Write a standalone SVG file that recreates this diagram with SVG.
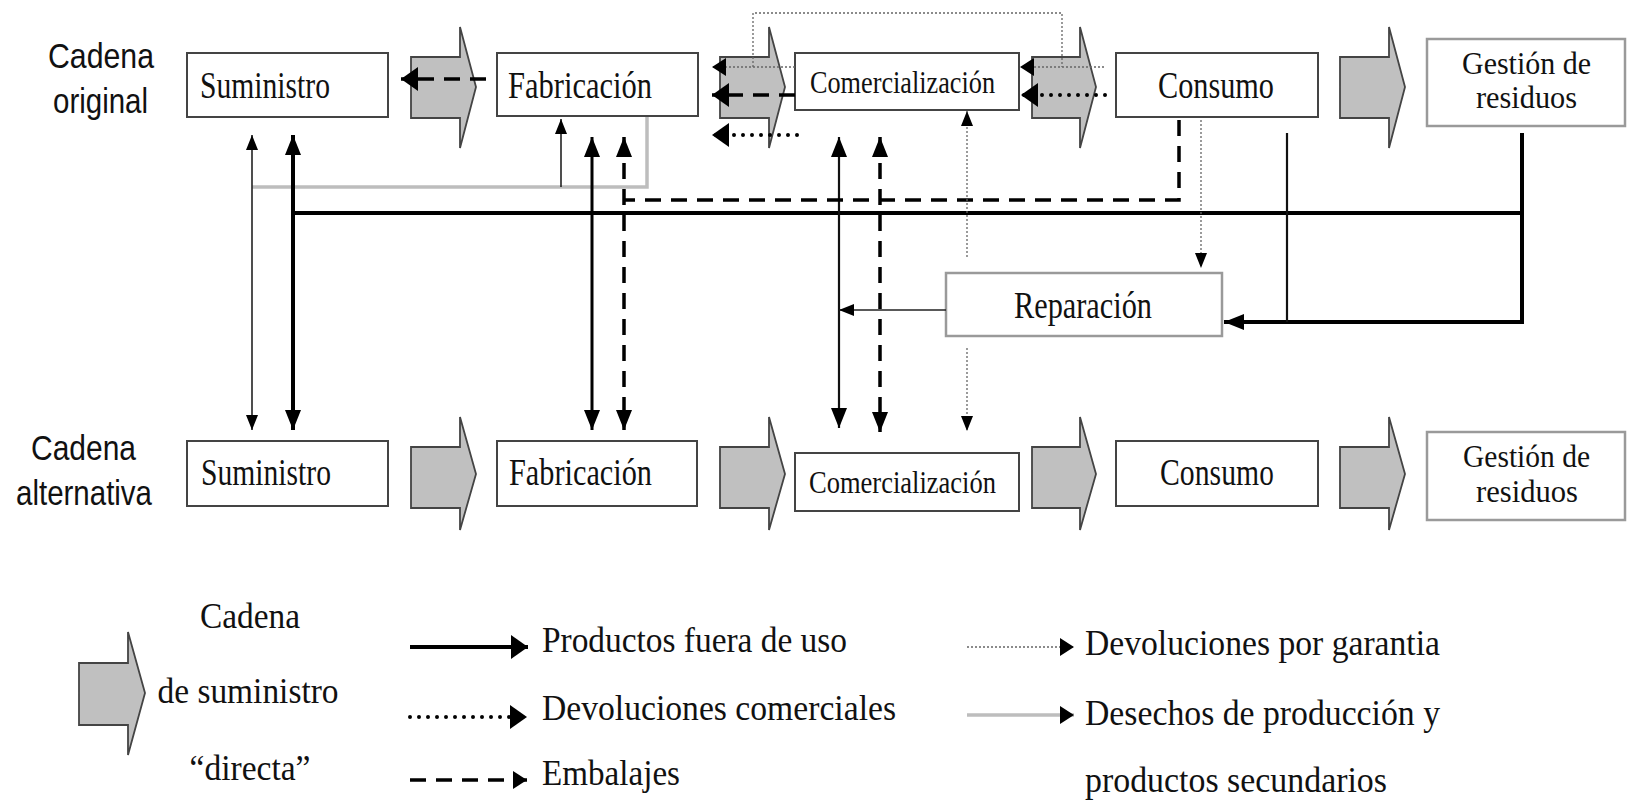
<svg xmlns="http://www.w3.org/2000/svg" width="1627" height="805" viewBox="0 0 1627 805">
<style>
.bg{fill:#fff}
.box{fill:#fff;stroke:#444;stroke-width:2}
.boxl{fill:#fff;stroke:#9a9a9a;stroke-width:2.5}
.blk{fill:#c0c0c0;stroke:#444;stroke-width:1.8;stroke-linejoin:miter}
.lbl{font-family:"Liberation Serif","Times New Roman",serif;font-size:38px;fill:#111}
.lblg{font-family:"Liberation Serif","Times New Roman",serif;font-size:32px;fill:#111}
.lbls{font-family:"Liberation Serif","Times New Roman",serif;font-size:31px;fill:#111}
.sans{font-family:"Liberation Sans",Arial,sans-serif;font-size:35px;fill:#111}
.leg{font-family:"Liberation Serif","Times New Roman",serif;font-size:35px;fill:#111}
.c{fill:none;stroke-linecap:butt}
.thick{stroke:#000;stroke-width:4}
.med{stroke:#000;stroke-width:3}
.mid{stroke:#111;stroke-width:2.2}
.thin{stroke:#222;stroke-width:1.6}
.gray{stroke:#bdbdbd;stroke-width:3.5}
.dash{stroke:#000;stroke-width:3.5;stroke-dasharray:16 10}
.dots{stroke:#000;stroke-width:4;stroke-dasharray:0 9;stroke-linecap:round}
.fine{stroke:#666;stroke-width:1.3;stroke-dasharray:2 2}
</style>
<defs>
<marker id="hs" markerUnits="userSpaceOnUse" markerWidth="15" markerHeight="12" refX="15" refY="6" orient="auto-start-reverse"><path d="M0,0 L15,6 L0,12 z" fill="#000"/></marker>
<marker id="hl" markerUnits="userSpaceOnUse" markerWidth="20" markerHeight="16" refX="20" refY="8" orient="auto-start-reverse"><path d="M0,0 L20,8 L0,16 z" fill="#000"/></marker>
<marker id="hh" markerUnits="userSpaceOnUse" markerWidth="14" markerHeight="18" refX="14" refY="9" orient="auto-start-reverse"><path d="M0,0 L14,9 L0,18 z" fill="#000"/></marker>
<marker id="hx" markerUnits="userSpaceOnUse" markerWidth="17" markerHeight="24" refX="17" refY="12" orient="auto-start-reverse"><path d="M0,0 L17,12 L0,24 z" fill="#000"/></marker>
</defs>
<rect class="bg" x="0" y="0" width="1627" height="805"/>

<g id="row-labels">
<text class="sans" x="48" y="68" textLength="106" lengthAdjust="spacingAndGlyphs">Cadena</text>
<text class="sans" x="53" y="113" textLength="95" lengthAdjust="spacingAndGlyphs">original</text>
<text class="sans" x="31" y="460" textLength="105" lengthAdjust="spacingAndGlyphs">Cadena</text>
<text class="sans" x="16" y="505" textLength="136" lengthAdjust="spacingAndGlyphs">alternativa</text>
</g>

<g id="flow-arrows">
<path class="blk" d="M411 57 H460 V27 L476 87 L460 148 V118 H411 Z"/>
<path class="blk" d="M720 57 H769 V27 L785 87 L769 148 V118 H720 Z"/>
<path class="blk" d="M1032 57 H1080 V27 L1096 87 L1080 148 V118 H1032 Z"/>
<path class="blk" d="M1340 57 H1389 V27 L1405 87 L1389 148 V118 H1340 Z"/>
<path class="blk" d="M411 447 H460 V417 L476 474 L460 530 V508 H411 Z"/>
<path class="blk" d="M720 447 H769 V417 L785 474 L769 530 V508 H720 Z"/>
<path class="blk" d="M1032 447 H1080 V417 L1096 474 L1080 530 V508 H1032 Z"/>
<path class="blk" d="M1340 447 H1389 V417 L1405 474 L1389 530 V508 H1340 Z"/>
</g>

<g id="orig-suministro"><rect class="box" x="187" y="53" width="201" height="64"/><text class="lbl" x="200" y="98" textLength="130" lengthAdjust="spacingAndGlyphs">Suministro</text></g>
<g id="orig-fabricacion"><rect class="box" x="497" y="53" width="201" height="63"/><text class="lbl" x="508" y="98" textLength="144" lengthAdjust="spacingAndGlyphs">Fabricación</text></g>
<g id="orig-comercializacion"><rect class="box" x="795" y="53" width="224" height="57"/><text class="lbls" x="810" y="93" textLength="185" lengthAdjust="spacingAndGlyphs">Comercialización</text></g>
<g id="orig-consumo"><rect class="box" x="1116" y="53" width="202" height="64"/><text class="lbl" x="1158" y="98" textLength="116" lengthAdjust="spacingAndGlyphs">Consumo</text></g>
<g id="orig-gestion"><rect class="boxl" x="1427" y="39" width="198" height="87"/><text class="lblg" x="1462" y="74" textLength="129" lengthAdjust="spacingAndGlyphs">Gestión de</text><text class="lblg" x="1476" y="108" textLength="101" lengthAdjust="spacingAndGlyphs">residuos</text></g>

<g id="reparacion"><rect class="boxl" x="946" y="273" width="276" height="63"/><text class="lbl" x="1014" y="318" textLength="138" lengthAdjust="spacingAndGlyphs">Reparación</text></g>

<g id="alt-suministro"><rect class="box" x="187" y="441" width="201" height="65"/><text class="lbl" x="201" y="485" textLength="130" lengthAdjust="spacingAndGlyphs">Suministro</text></g>
<g id="alt-fabricacion"><rect class="box" x="497" y="441" width="200" height="65"/><text class="lbl" x="509" y="485" textLength="143" lengthAdjust="spacingAndGlyphs">Fabricación</text></g>
<g id="alt-comercializacion"><rect class="box" x="795" y="453" width="224" height="58"/><text class="lbls" x="809" y="493" textLength="187" lengthAdjust="spacingAndGlyphs">Comercialización</text></g>
<g id="alt-consumo"><rect class="box" x="1116" y="441" width="202" height="65"/><text class="lbl" x="1160" y="485" textLength="114" lengthAdjust="spacingAndGlyphs">Consumo</text></g>
<g id="alt-gestion"><rect class="boxl" x="1427" y="432" width="198" height="88"/><text class="lblg" x="1463" y="467" textLength="127" lengthAdjust="spacingAndGlyphs">Gestión de</text><text class="lblg" x="1476" y="502" textLength="102" lengthAdjust="spacingAndGlyphs">residuos</text></g>

<g id="connectors">
<path class="c gray" d="M647 117 V187 H252"/>
<path class="c thin" d="M561 187 V119" marker-end="url(#hs)"/>
<path class="c thin" d="M252 135 V430" marker-start="url(#hs)" marker-end="url(#hs)"/>
<path class="c thick" d="M293 135 V430" marker-start="url(#hl)" marker-end="url(#hl)"/>
<path class="c thick" d="M293 213 H1522"/>
<path class="c thick" d="M1522 133 V322 H1224" marker-end="url(#hl)"/>
<path class="c mid" d="M1287 133 V322"/>
<path class="c med" d="M592 137 V430" marker-start="url(#hl)" marker-end="url(#hl)"/>
<path class="c mid" d="M839 137 V428" marker-start="url(#hl)" marker-end="url(#hl)"/>
<path class="c thin" d="M946 310 H839" marker-end="url(#hs)"/>
<path class="c dash" d="M1179 120 V200 H624"/>
<path class="c dash" d="M624 137 V430" marker-start="url(#hl)" marker-end="url(#hl)"/>
<path class="c dash" d="M880 137 V432" marker-start="url(#hl)" marker-end="url(#hl)"/>
<path class="c dash" d="M486 79 H401" marker-end="url(#hx)"/>
<path class="c dash" d="M795 95 H712" marker-end="url(#hx)"/>
<path class="c dots" d="M797 135 H712" marker-end="url(#hx)"/>
<path class="c dots" d="M1105 95 H1021" marker-end="url(#hx)"/>
<path class="c fine" d="M753 67 V13 H1062 V67"/>
<path class="c fine" d="M795 67 H712" marker-end="url(#hh)"/>
<path class="c fine" d="M1104 67 H1020" marker-end="url(#hh)"/>
<path class="c fine" d="M967 257 V111" marker-end="url(#hs)"/>
<path class="c fine" d="M967 348 V431" marker-end="url(#hs)"/>
<path class="c fine" d="M1201 120 V268" marker-end="url(#hs)"/>
</g>

<g id="legend">
<path class="blk" d="M79 663 H128 V632 L145 693 L128 755 V725 H79 Z"/>
<text class="leg" x="250" y="628" text-anchor="middle" textLength="100" lengthAdjust="spacingAndGlyphs">Cadena</text>
<text class="leg" x="248" y="703" text-anchor="middle" textLength="181" lengthAdjust="spacingAndGlyphs">de suministro</text>
<text class="leg" x="250" y="780" text-anchor="middle" textLength="121" lengthAdjust="spacingAndGlyphs">“directa”</text>
<path class="c thick" d="M410 647 H528" marker-end="url(#hx)"/>
<text class="leg" x="542" y="652" textLength="305" lengthAdjust="spacingAndGlyphs">Productos fuera de uso</text>
<path class="c dots" d="M410 717 H527" marker-end="url(#hx)"/>
<text class="leg" x="542" y="720" textLength="354" lengthAdjust="spacingAndGlyphs">Devoluciones comerciales</text>
<path class="c dash" d="M410 780 H527" marker-end="url(#hh)"/>
<text class="leg" x="542" y="785" textLength="138" lengthAdjust="spacingAndGlyphs">Embalajes</text>
<path class="c fine" d="M967 647 H1074" marker-end="url(#hh)"/>
<text class="leg" x="1085" y="655" textLength="355" lengthAdjust="spacingAndGlyphs">Devoluciones por garantia</text>
<path class="c gray" d="M967 715 H1074" marker-end="url(#hh)"/>
<text class="leg" x="1085" y="725" textLength="355" lengthAdjust="spacingAndGlyphs">Desechos de producción y</text>
<text class="leg" x="1085" y="792" textLength="302" lengthAdjust="spacingAndGlyphs">productos secundarios</text>
</g>
</svg>
